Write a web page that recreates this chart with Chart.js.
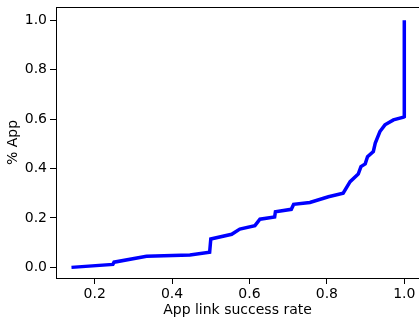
<html><head><meta charset="UTF-8">
<title>App link success rate</title>
<style>
    body, html {
        margin: 0;
        padding: 0;
        background-color: #fff;
        overflow: hidden;
    }
    #chart {
        display: block;
    }
</style>
<script src="https://cdn.jsdelivr.net/npm/chart.js"></script>
</head>
<body>
<canvas id="chart" width="419" height="321"></canvas>
<script>
    // values
    const successRate = [0.14, 0.247, 0.25, 0.334, 0.446, 0.497, 0.5, 0.554, 0.575, 0.614, 0.627, 0.665, 0.667,
        0.708, 0.714, 0.756, 0.804, 0.842, 0.86, 0.881, 0.888, 0.899, 0.905, 0.92, 0.925, 0.937, 0.95,
        0.972, 0.998, 1.0, 1.0];
    const appShare = [0.0, 0.012, 0.021, 0.045, 0.05, 0.061, 0.115, 0.134, 0.155, 0.169, 0.195, 0.204, 0.225,
        0.235, 0.255, 0.263, 0.286, 0.3, 0.347, 0.378, 0.408, 0.419, 0.448, 0.469, 0.503, 0.55, 0.577,
        0.597, 0.608, 0.61, 1.0];
    const xTicks = [0.2, 0.4, 0.6, 0.8, 1.0];
    const yTicks = [0.0, 0.2, 0.4, 0.6, 0.8, 1.0];

    const points = successRate.map((x, i) => ({x: x, y: appShare[i]}));
    const font = {family: 'DejaVu Sans', size: 14};

    // top spine like matplotlib
    const frame = {
        id: 'frame',
        afterDraw(chart) {
            const a = chart.chartArea;
            const ctx = chart.ctx;
            ctx.save();
            ctx.strokeStyle = '#000';
            ctx.lineWidth = 1;
            ctx.beginPath();
            ctx.moveTo(a.left, a.top + 0.5);
            ctx.lineTo(a.right, a.top + 0.5);
            ctx.stroke();
            ctx.restore();
        }
    };

    new Chart(document.getElementById('chart'), {
        type: 'scatter',
        data: {
            datasets: [{
                data: points,
                showLine: true,
                borderColor: '#0000ff',
                borderWidth: 3.5,
                pointRadius: 0,
                tension: 0
            }]
        },
        options: {
            responsive: false,
            animation: false,
            layout: {padding: {top: 7, right: 0, left: 0, bottom: 0}},
            plugins: {legend: {display: false}, tooltip: {enabled: false}},
            scales: {
                x: {
                    type: 'linear',
                    min: 0.1,
                    max: 1.038,
                    afterBuildTicks: s => { s.ticks = xTicks.map(v => ({value: v})); },
                    afterFit: s => { s.height = 43; s.paddingLeft = 0; s.paddingRight = 0; },
                    grid: {drawOnChartArea: false, drawTicks: true, tickLength: 6, color: '#000'},
                    border: {color: '#000', width: 1},
                    ticks: {font: font, color: '#000', padding: 2, maxRotation: 0,
                        callback: v => v.toFixed(1)},
                    title: {display: true, text: 'App link success rate', font: font, color: '#000',
                        padding: {top: 0, bottom: 2}}
                },
                y: {
                    type: 'linear',
                    min: -0.043,
                    max: 1.054,
                    afterBuildTicks: s => { s.ticks = yTicks.map(v => ({value: v})); },
                    afterFit: s => { s.width = 56; s.paddingTop = 0; s.paddingBottom = 0; },
                    grid: {drawOnChartArea: false, drawTicks: true, tickLength: 6, color: '#000'},
                    border: {color: '#000', width: 1},
                    ticks: {font: font, color: '#000', padding: 3,
                        callback: v => v.toFixed(1)},
                    title: {display: true, text: '% App', font: font, color: '#000',
                        padding: {top: 5, bottom: 0}}
                }
            }
        },
        plugins: [frame]
    });
</script>
</body>
</html>
